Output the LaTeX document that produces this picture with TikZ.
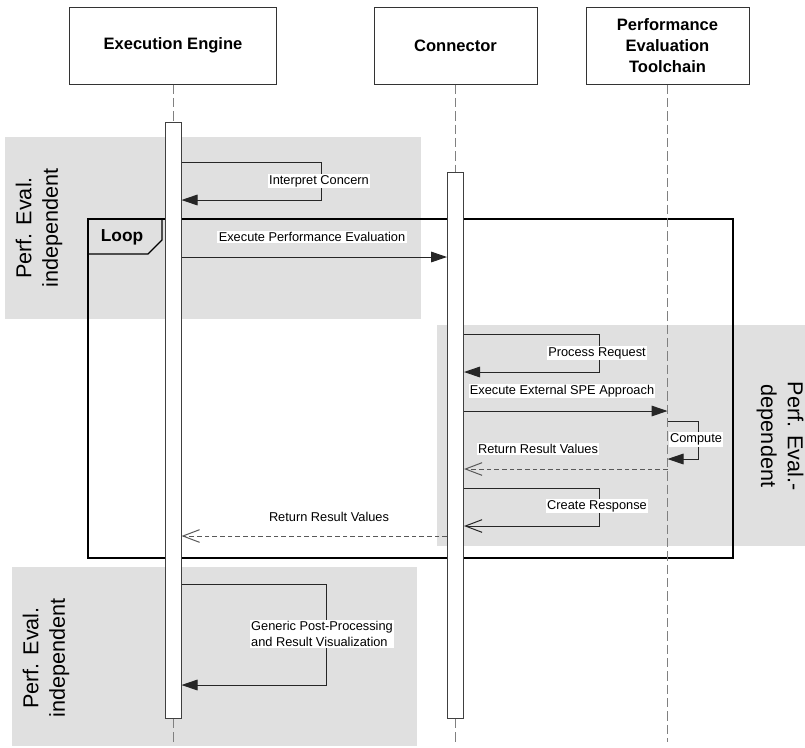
\documentclass[tikz,border=0pt]{standalone}
\usepackage{fontspec}
\setmainfont{Liberation Sans}
\usetikzlibrary{arrows.meta}
\definecolor{regiongray}{RGB}{224,224,224}
\definecolor{lifegray}{RGB}{128,128,128}
\begin{document}
\begin{tikzpicture}[x=0.75pt,y=-0.75pt,
  region/.style={fill=regiongray,draw=none},
  regiontext/.style={font=\fontsize{16.2}{20}\selectfont,align=center,inner sep=0pt},
  header/.style={draw=black!80,line width=0.75pt,fill=white,minimum height=57.75pt,
    font=\bfseries\fontsize{12.4}{15.6}\selectfont,align=center,inner sep=0pt},
  lifeline/.style={draw=lifegray,line width=0.75pt,dash pattern=on 7pt off 3pt},
  actbar/.style={draw=black!75,line width=0.75pt,fill=white,minimum width=12pt,inner sep=0pt,anchor=north},
  msg/.style={draw=black!85,line width=0.75pt},
  call/.style={msg,-{Triangle[length=12pt,width=8pt]}},
  reply/.style={msg,-{Straight Barb[length=12.5pt,width=9.5pt]}},
  dashreply/.style={reply,draw=black!65,dash pattern=on 3.5pt off 2.25pt},
  lbl/.style={fill=white,inner sep=1pt,font=\fontsize{9.6}{11.4}\selectfont},
  frame/.style={draw=black,line width=1pt}
]
\useasboundingbox (0,0) rectangle (805,747);

% shaded areas: evaluation-independent and -dependent phases
\fill[region] (5,137) rectangle (421,319);
\fill[region] (437,325) rectangle (805,546);
\fill[region] (12,567) rectangle (417,746);
\node[regiontext,rotate=90] (indepA) at (39,228) {Perf. Eval.\\independent};
\node[regiontext,rotate=-90] (dep) at (780,436) {Perf. Eval.-\\dependent};
\node[regiontext,rotate=90] (indepB) at (46,658) {Perf. Eval.\\independent};

% combined fragment
\draw[frame] (88,219) rectangle (733,558);
\draw[frame] (88,254) -- (148,254) -- (162,240) -- (162,219);
\node[font=\bfseries\fontsize{13}{15}\selectfont,inner sep=0pt] (loop) at (122,237.5) {Loop};

% participants
\node[header,minimum width=154.8pt] (ee) at (173,45.5) {Execution Engine};
\node[header,minimum width=122.25pt] (con) at (455.5,45.5) {Connector};
\node[header,minimum width=122.25pt] (tc) at (667.5,45.5) {Performance\\Evaluation\\Toolchain};

% lifelines
\coordinate (eeend) at (173,742);
\coordinate (conend) at (455.5,742);
\coordinate (tcend) at (667.5,742);
\node[actbar,minimum height=447pt] (eebar) at (173,122) {};
\node[actbar,minimum height=409.5pt] (conbar) at (455.5,172) {};
\draw[lifeline] (ee.south) -- (eebar.north);
\draw[lifeline] (eebar.south) -- (eeend);
\draw[lifeline] (con.south) -- (conbar.north);
\draw[lifeline] (conbar.south) -- (conend);
\draw[lifeline] (tc.south) -- (tcend);
% redraw bars above the fragment lines
\node[actbar,minimum height=447pt] at (173,122) {};
\node[actbar,minimum height=409.5pt] at (455.5,172) {};

% messages
\draw[call] (eebar.east |- 0,162) -- (321,162) -- (321,200) -- (eebar.east |- 0,200);
\node[lbl] (interpret) at (319,181) {Interpret Concern};

\draw[call] (eebar.east |- 0,257) -- (conbar.west |- 0,257);
\node[lbl] (execpe) at (312,237) {Execute Performance Evaluation};

\draw[call] (conbar.east |- 0,334) -- (599,334) -- (599,372) -- (conbar.east |- 0,372);
\node[lbl] (process) at (597,353) {Process Request};

\draw[call] (conbar.east |- 0,411) -- (tc.south |- 0,411);
\node[lbl] (extspe) at (562,391) {Execute External SPE Approach};

\draw[call] (tc.south |- 0,421) -- (698,421) -- (698,459) -- (tc.south |- 0,459);
\node[lbl] (compute) at (696,439.5) {Compute};

\draw[dashreply] (tc.south |- 0,469) -- (conbar.east |- 0,469);
\node[lbl] (ret1) at (538,449) {Return Result Values};

\draw[reply] (conbar.east |- 0,488) -- (599,488) -- (599,526) -- (conbar.east |- 0,526);
\node[lbl] (create) at (597,506) {Create Response};

\draw[dashreply] (conbar.west |- 0,536) -- (eebar.east |- 0,536);
\node[lbl] (ret2) at (329,517) {Return Result Values};

\draw[call] (eebar.east |- 0,584) -- (326,584) -- (326,685) -- (eebar.east |- 0,685);
\node[lbl,align=left] (post) at (322,634) {Generic Post-Processing\\and Result Visualization};
\end{tikzpicture}
\end{document}
